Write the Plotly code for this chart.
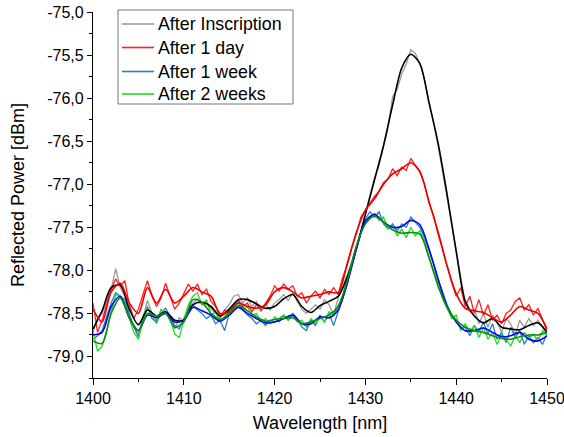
import plotly.graph_objects as go

# ---------------- data ----------------
wl_raw = [1400 + 0.5 * i for i in range(101)]
wl_smooth = list(range(1400, 1451))

raw_inscription = [
    -78.72, -78.55, -78.50, -78.35, -78.22, -77.98, -78.20, -78.30, -78.50, -78.66,
    -78.74, -78.55, -78.35, -78.50, -78.62, -78.45, -78.50, -78.52, -78.68, -78.55,
    -78.60, -78.45, -78.38, -78.33, -78.40, -78.36, -78.45, -78.50, -78.56, -78.46,
    -78.40, -78.30, -78.28, -78.38, -78.32, -78.42, -78.36, -78.48, -78.40, -78.46,
    -78.38, -78.34, -78.28, -78.35, -78.26, -78.36, -78.45, -78.50, -78.45, -78.40,
    -78.45, -78.34, -78.40, -78.52, -78.32, -78.20, -78.05, -77.90, -77.72, -77.55,
    -77.34, -77.15, -76.93, -76.78, -76.55, -76.33, -75.98, -75.90, -75.72, -75.60,
    -75.44, -75.48, -75.60, -75.78, -76.05, -76.28, -76.55, -76.85, -77.15, -77.45,
    -77.78, -78.10, -78.38, -78.48, -78.45, -78.62, -78.50, -78.66, -78.52, -78.60,
    -78.72, -78.56, -78.62, -78.74, -78.58, -78.66, -78.56, -78.64, -78.58, -78.66,
    -78.74,
]
raw_1day = [
    -78.38, -78.72, -78.58, -78.40, -78.22, -78.10, -78.18, -78.12, -78.40, -78.56,
    -78.45, -78.28, -78.12, -78.30, -78.42, -78.32, -78.15, -78.30, -78.45, -78.38,
    -78.26, -78.16, -78.24, -78.16, -78.28, -78.22, -78.36, -78.42, -78.54, -78.46,
    -78.50, -78.40, -78.34, -78.42, -78.38, -78.48, -78.40, -78.46, -78.38, -78.30,
    -78.18, -78.24, -78.16, -78.22, -78.18, -78.30, -78.26, -78.38, -78.30, -78.24,
    -78.32, -78.22, -78.28, -78.20, -78.28, -78.08, -77.94, -77.74, -77.58, -77.38,
    -77.30, -77.22, -77.14, -77.08, -76.98, -76.94, -76.82, -76.90, -76.80, -76.84,
    -76.70, -76.78, -76.86, -77.00, -77.22, -77.36, -77.58, -77.76, -77.96, -78.14,
    -78.30, -78.20, -78.42, -78.30, -78.50, -78.34, -78.52, -78.40, -78.58, -78.52,
    -78.62, -78.50, -78.46, -78.36, -78.32, -78.46, -78.40, -78.52, -78.44, -78.56,
    -78.70,
]
raw_1week = [
    -78.80, -78.76, -78.70, -78.55, -78.38, -78.26, -78.30, -78.34, -78.52, -78.66,
    -78.78, -78.56, -78.42, -78.56, -78.60, -78.50, -78.44, -78.54, -78.64, -78.68,
    -78.56, -78.44, -78.40, -78.46, -78.50, -78.56, -78.52, -78.62, -78.58, -78.70,
    -78.50, -78.40, -78.36, -78.46, -78.52, -78.56, -78.62, -78.58, -78.64, -78.58,
    -78.60, -78.56, -78.52, -78.58, -78.50, -78.56, -78.66, -78.70, -78.58, -78.64,
    -78.52, -78.60, -78.50, -78.64, -78.48, -78.32, -78.16, -77.96, -77.76, -77.56,
    -77.40, -77.32, -77.38, -77.32, -77.46, -77.52, -77.46, -77.54, -77.46, -77.50,
    -77.38, -77.44, -77.50, -77.62, -77.76, -77.92, -78.10, -78.26, -78.40, -78.52,
    -78.58, -78.68, -78.66, -78.76, -78.64, -78.72, -78.60, -78.74, -78.62, -78.80,
    -78.72, -78.84, -78.66, -78.78, -78.70, -78.86, -78.76, -78.84, -78.78, -78.86,
    -78.74,
]
raw_2weeks = [
    -78.70, -78.94, -78.88, -78.70, -78.48, -78.28, -78.30, -78.38, -78.56, -78.72,
    -78.80, -78.58, -78.44, -78.52, -78.58, -78.46, -78.50, -78.56, -78.74, -78.78,
    -78.58, -78.40, -78.30, -78.26, -78.40, -78.34, -78.52, -78.48, -78.60, -78.54,
    -78.46, -78.42, -78.38, -78.46, -78.42, -78.52, -78.50, -78.60, -78.56, -78.62,
    -78.54, -78.60, -78.52, -78.58, -78.52, -78.60, -78.58, -78.66, -78.56, -78.62,
    -78.54, -78.60, -78.48, -78.52, -78.40, -78.30, -78.10, -77.92, -77.72, -77.56,
    -77.44, -77.38, -77.34, -77.42, -77.38, -77.52, -77.48, -77.60, -77.52, -77.62,
    -77.50, -77.60, -77.54, -77.66, -77.84, -78.00, -78.18, -78.32, -78.44, -78.56,
    -78.52, -78.70, -78.62, -78.72, -78.64, -78.78, -78.66, -78.80, -78.72, -78.86,
    -78.74, -78.80, -78.88, -78.76, -78.84, -78.72, -78.80, -78.74, -78.82, -78.70,
    -78.76,
]

smooth_inscription = [
    -78.68, -78.47, -78.20, -78.17, -78.45, -78.63, -78.46, -78.53, -78.48, -78.58,
    -78.58, -78.40, -78.37, -78.42, -78.53, -78.45, -78.34, -78.34, -78.39, -78.44,
    -78.42, -78.33, -78.28, -78.42, -78.49, -78.41, -78.36, -78.30, -78.08, -77.75,
    -77.35, -76.95, -76.55, -76.08, -75.65, -75.49, -75.60, -76.05, -76.52, -77.12,
    -77.78, -78.36, -78.53, -78.61, -78.56, -78.66, -78.68, -78.69, -78.64, -78.61,
    -78.72,
]
smooth_1day = [
    -78.45, -78.60, -78.25, -78.15, -78.38, -78.50, -78.20, -78.38, -78.22, -78.38,
    -78.30, -78.20, -78.25, -78.30, -78.50, -78.48, -78.38, -78.42, -78.44, -78.40,
    -78.25, -78.20, -78.25, -78.32, -78.30, -78.28, -78.25, -78.26, -77.92, -77.56,
    -77.30, -77.17, -77.00, -76.88, -76.82, -76.75, -76.85, -77.20, -77.55, -77.95,
    -78.27, -78.44, -78.47, -78.49, -78.55, -78.60, -78.52, -78.42, -78.46, -78.50,
    -78.68,
]
smooth_1week = [
    -78.75, -78.72, -78.42, -78.30, -78.55, -78.70, -78.52, -78.55, -78.50, -78.60,
    -78.58, -78.43, -78.47, -78.52, -78.59, -78.52, -78.43, -78.50, -78.56, -78.61,
    -78.60, -78.56, -78.52, -78.62, -78.62, -78.54, -78.55, -78.46, -78.15, -77.75,
    -77.43, -77.35, -77.44, -77.50, -77.49, -77.42, -77.47, -77.75, -78.10, -78.42,
    -78.60, -78.70, -78.70, -78.67, -78.72, -78.77, -78.76, -78.72, -78.80, -78.82,
    -78.76,
]
smooth_2weeks = [
    -78.82, -78.85, -78.50, -78.32, -78.55, -78.70, -78.50, -78.53, -78.50, -78.66,
    -78.60, -78.34, -78.37, -78.50, -78.57, -78.50, -78.41, -78.47, -78.54, -78.59,
    -78.57, -78.56, -78.55, -78.62, -78.60, -78.56, -78.52, -78.42, -78.12, -77.72,
    -77.46, -77.37, -77.44, -77.53, -77.57, -77.56, -77.58, -77.85, -78.18, -78.43,
    -78.58, -78.66, -78.70, -78.72, -78.76, -78.79, -78.80, -78.77, -78.75, -78.75,
    -78.72,
]

series_names = ["After Inscription", "After 1 day", "After 1 week", "After 2 weeks"]
x_tick_vals = [1400, 1410, 1420, 1430, 1440, 1450]
y_tick_vals = [-79.0, -78.5, -78.0, -77.5, -77.0, -76.5, -76.0, -75.5, -75.0]
y_tick_labels = ["-79,0", "-78,5", "-78,0", "-77,5", "-77,0", "-76,5", "-76,0", "-75,5", "-75,0"]

# ---------------- figure ----------------
raw_sets = [raw_inscription, raw_1day, raw_1week, raw_2weeks]
raw_colors = ["#9a9a9a", "#ff2020", "#2a7fc0", "#22dd22"]
smooth_sets = [smooth_inscription, smooth_1day, smooth_1week, smooth_2weeks]
smooth_colors = ["#000000", "#ee0000", "#0000ff", "#0a8f0a"]

W, H = 564, 437
ML, MR, MT, MB = 93, 17, 12, 59
PW, PH = W - ML - MR, H - MT - MB


def px_x(p):
    return (p - ML) / PW


def px_y(p):
    return (H - MB - p) / PH


fig = go.Figure()
for name, ys, col in zip(series_names, raw_sets, raw_colors):
    fig.add_trace(go.Scatter(x=wl_raw, y=ys, mode="lines", name=name,
                             line=dict(color=col, width=1.3), showlegend=False))
for name, ys, col in zip(series_names, smooth_sets, smooth_colors):
    fig.add_trace(go.Scatter(x=wl_smooth, y=ys, mode="lines", name=name + " (smoothed)",
                             showlegend=False,
                             line=dict(color=col, width=1.6, shape="spline", smoothing=0.8)))

font_family = "Liberation Sans, Arial, sans-serif"

# legend drawn as box + samples + text (Origin-style compact legend)
shapes = [dict(type="rect", xref="paper", yref="paper", layer="above",
               x0=px_x(118), x1=px_x(293), y0=px_y(104), y1=px_y(10),
               fillcolor="white", line=dict(color="#777777", width=1))]
annotations = []
item_y = [24, 47.5, 71.5, 94]
for name, col, yy in zip(series_names, raw_colors, item_y):
    shapes.append(dict(type="line", xref="paper", yref="paper", layer="above",
                       x0=px_x(122), x1=px_x(154), y0=px_y(yy), y1=px_y(yy),
                       line=dict(color=col, width=1.6)))
    annotations.append(dict(text=name, xref="paper", yref="paper", showarrow=False,
                            x=px_x(156), y=px_y(yy + 0.5), xanchor="left", yanchor="middle",
                            font=dict(size=17.8, family=font_family, color="black")))

fig.update_layout(
    template="none",
    width=W, height=H,
    margin=dict(l=ML, r=MR, t=MT, b=MB, autoexpand=False),
    paper_bgcolor="white", plot_bgcolor="white",
    font=dict(family=font_family, color="black"),
    showlegend=False,
    shapes=shapes,
    annotations=annotations,
)
fig.update_xaxes(
    automargin=False, ticklabeloverflow="allow",
    range=[1400, 1450], showline=True, linecolor="black", linewidth=1.2,
    showgrid=False, zeroline=False, mirror=False,
    ticks="outside", ticklen=6, tickwidth=1.2, tickcolor="black",
    tickvals=x_tick_vals, ticktext=[str(v) for v in x_tick_vals],
    tickfont=dict(size=16),
    minor=dict(ticks="outside", ticklen=3, tickwidth=1.2, tickcolor="black", dtick=5, showgrid=False),
    title=dict(text="Wavelength [nm]", font=dict(size=18), standoff=10),
)
fig.update_yaxes(
    automargin=False, ticklabeloverflow="allow",
    range=[-79.25, -75.0], showline=True, linecolor="black", linewidth=1.2,
    showgrid=False, zeroline=False, mirror=False,
    ticks="outside", ticklen=5, tickwidth=1.2, tickcolor="black",
    tickvals=y_tick_vals, ticktext=y_tick_labels,
    tickfont=dict(size=16),
    minor=dict(ticks="outside", ticklen=3, tickwidth=1.2, tickcolor="black", dtick=0.25, tick0=-79.0, showgrid=False),
    title=dict(text="Reflected Power [dBm]", font=dict(size=18), standoff=17),
)

fig.write_html("out.html")
